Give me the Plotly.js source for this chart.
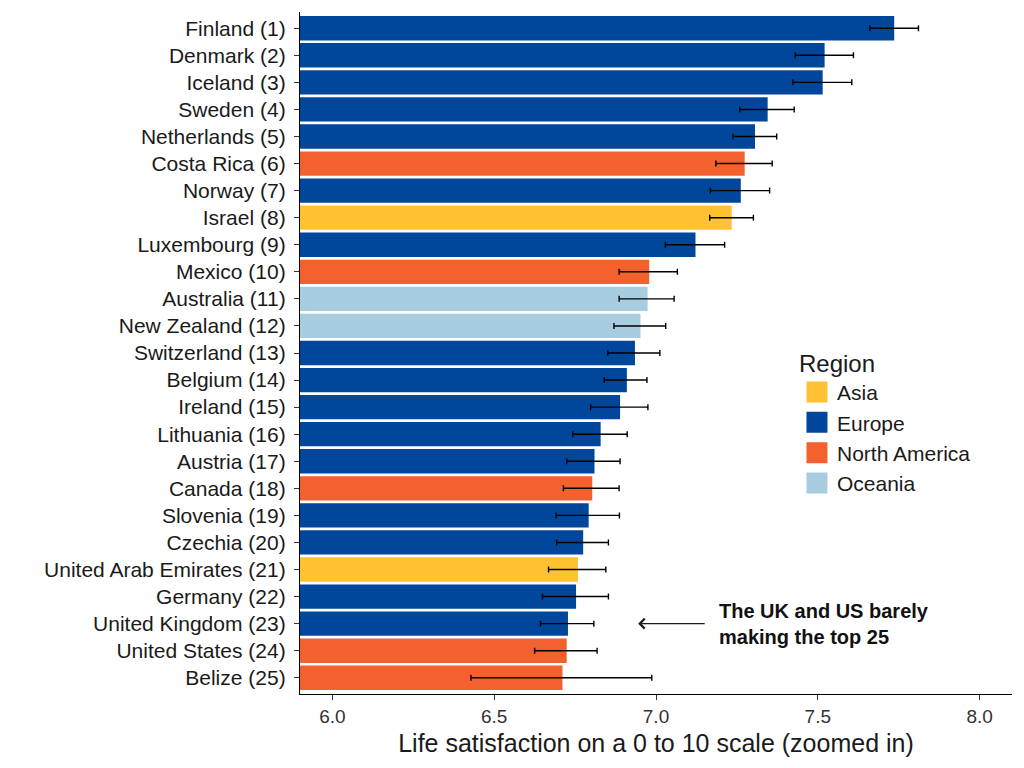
<!DOCTYPE html>
<html>
<head>
<meta charset="utf-8">
<script src="https://cdn.plot.ly/plotly-3.0.1.min.js"></script>
<style>
  html, body { margin: 0; padding: 0; background: #ffffff; }
  #chart { width: 1024px; height: 768px; }
</style>
</head>
<body>
<div id="chart"></div>
<script>
// Top 25 countries, life satisfaction (0-10) with 95% interval
const countries = ['Finland', 'Denmark', 'Iceland', 'Sweden', 'Netherlands', 'Costa Rica', 'Norway',
  'Israel', 'Luxembourg', 'Mexico', 'Australia', 'New Zealand', 'Switzerland', 'Belgium', 'Ireland',
  'Lithuania', 'Austria', 'Canada', 'Slovenia', 'Czechia', 'United Arab Emirates', 'Germany',
  'United Kingdom', 'United States', 'Belize'];
const regions = ['Europe', 'Europe', 'Europe', 'Europe', 'Europe', 'North America', 'Europe',
  'Asia', 'Europe', 'North America', 'Oceania', 'Oceania', 'Europe', 'Europe', 'Europe',
  'Europe', 'Europe', 'North America', 'Europe', 'Europe', 'Asia', 'Europe',
  'Europe', 'North America', 'North America'];
const scores = [7.736, 7.521, 7.515, 7.345, 7.306, 7.274, 7.262, 7.234, 7.122, 6.979, 6.974, 6.952,
  6.935, 6.910, 6.889, 6.829, 6.810, 6.803, 6.792, 6.775, 6.759, 6.753, 6.728, 6.724, 6.711];
const lowers = [7.661, 7.430, 7.423, 7.259, 7.238, 7.185, 7.168, 7.166, 7.029, 6.886, 6.886, 6.870,
  6.851, 6.840, 6.798, 6.743, 6.724, 6.714, 6.691, 6.693, 6.668, 6.649, 6.643, 6.625, 6.428];
const uppers = [7.811, 7.610, 7.605, 7.427, 7.373, 7.359, 7.351, 7.301, 7.212, 7.066, 7.056, 7.030,
  7.012, 6.972, 6.975, 6.911, 6.889, 6.886, 6.887, 6.853, 6.845, 6.853, 6.808, 6.818, 6.987];

const regionOrder = ['Asia', 'Europe', 'North America', 'Oceania'];
const regionColors = {
  'Asia': '#FFC233',
  'Europe': '#00479B',
  'North America': '#F2612E',
  'Oceania': '#A8CCE0'
};

const FONT = 'Liberation Sans, Arial, Helvetica, sans-serif';
const TEXT = '#1a1a1a';

const labels = countries.map((c, i) => `${c} (${i + 1})`);

// One bar trace per region (legend handled by the square-marker traces below)
const barTraces = regionOrder.map(region => {
  const idx = [];
  regions.forEach((r, i) => { if (r === region) idx.push(i); });
  return {
    type: 'bar',
    orientation: 'h',
    name: region,
    showlegend: false,
    y: idx.map(i => labels[i]),
    x: idx.map(i => scores[i]),
    width: 0.9,
    marker: { color: regionColors[region], line: { width: 0 } },
    error_x: {
      type: 'data',
      symmetric: false,
      array: idx.map(i => uppers[i] - scores[i]),
      arrayminus: idx.map(i => scores[i] - lowers[i]),
      color: '#000000',
      thickness: 1.4,
      width: 3
    },
    hovertemplate: '%{y}: %{x:.3f}<extra></extra>'
  };
});

// empty traces that only exist to give big square legend keys
const legendTraces = regionOrder.map(region => ({
  type: 'scatter',
  mode: 'markers',
  name: region,
  x: [null],
  y: [null],
  hoverinfo: 'skip',
  marker: {
    symbol: 'square',
    size: 40,
    color: regionColors[region],
    line: { color: regionColors[region], width: 6 }
  }
}));

const layout = {
  width: 1024,
  height: 768,
  margin: { l: 300, r: 12, t: 12, b: 74 },
  paper_bgcolor: '#ffffff',
  plot_bgcolor: '#ffffff',
  barmode: 'overlay',
  font: { family: FONT, color: TEXT },
  xaxis: {
    range: [5.9, 8.1],
    tickvals: [6, 6.5, 7, 7.5, 8],
    ticktext: ['6.0', '6.5', '7.0', '7.5', '8.0'],
    tickfont: { size: 19, color: '#333333' },
    ticks: 'outside',
    ticklen: 5,
    tickcolor: '#333333',
    showline: true,
    linecolor: '#000000',
    linewidth: 1.3,
    showgrid: false,
    zeroline: false,
    title: {
      text: 'Life satisfaction on a 0 to 10 scale (zoomed in)',
      font: { size: 25, color: TEXT },
      standoff: 8
    }
  },
  yaxis: {
    type: 'category',
    categoryorder: 'array',
    categoryarray: labels,
    range: [24.6, -0.6],
    tickfont: { size: 21, color: TEXT },
    ticks: 'outside',
    ticklen: 5,
    tickcolor: '#333333',
    ticklabelstandoff: 4,
    showline: true,
    linecolor: '#000000',
    linewidth: 1.3,
    showgrid: false,
    zeroline: false
  },
  legend: {
    x: 0.698,
    y: 0.518,
    xanchor: 'left',
    yanchor: 'top',
    traceorder: 'normal',
    title: { text: 'Region', font: { size: 24, color: TEXT } },
    font: { size: 21, color: TEXT },
    tracegroupgap: 0,
    itemwidth: 30,
    bgcolor: 'rgba(0,0,0,0)'
  },
  annotations: [
    {
      // arrow pointing at the UK / US bars
      x: 6.945,
      y: 'United Kingdom (23)',
      xref: 'x',
      yref: 'y',
      text: '',
      showarrow: true,
      arrowhead: 4,
      arrowsize: 1.6,
      arrowwidth: 1.2,
      arrowcolor: '#1a1a1a',
      ax: 68,
      ay: 0
    },
    {
      x: 7.19,
      y: 'United Kingdom (23)',
      xref: 'x',
      yref: 'y',
      text: '<b>The UK and US barely<br>making the top 25</b>',
      showarrow: false,
      xanchor: 'left',
      yanchor: 'middle',
      align: 'left',
      font: { size: 20, color: '#111111', family: FONT }
    }
  ]
};

Plotly.newPlot('chart', barTraces.concat(legendTraces), layout, { displayModeBar: false, responsive: false });
</script>
</body>
</html>
